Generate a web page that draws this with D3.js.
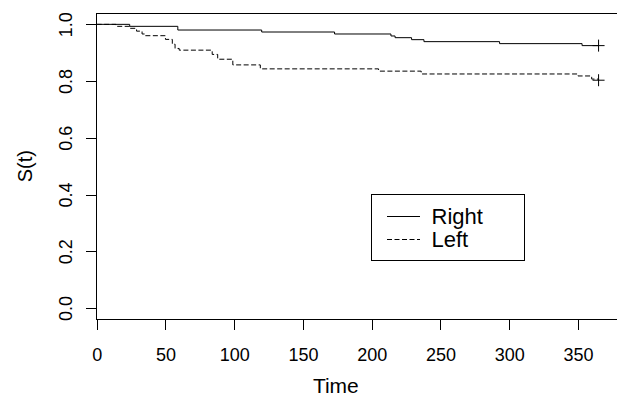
<!DOCTYPE html>
<html>
<head>
<meta charset="utf-8">
<script src="https://cdn.jsdelivr.net/npm/d3@7"></script>
<style>
  body { margin: 0; background: #fff; }
  svg { display: block; font-family: "Liberation Sans", Arial, sans-serif; }
</style>
</head>
<body>
<svg id="chart" width="617" height="397"></svg>
<script>
// ---- data ----
const seriesNames = ["Right", "Left"];
const rightTimes = [0, 24, 59, 120, 173, 214, 217, 229, 238, 293, 353, 365];
const rightSurv  = [1.0, 0.993, 0.980, 0.973, 0.966, 0.959, 0.953, 0.946, 0.939, 0.932, 0.925, 0.925];
const leftTimes  = [0, 14, 24, 29, 33, 35, 50, 55, 57, 60, 84, 88, 99, 119, 205, 236, 350, 360, 365];
const leftSurv   = [1.0, 0.993, 0.986, 0.976, 0.966, 0.960, 0.947, 0.930, 0.915, 0.909, 0.894, 0.877, 0.857, 0.843, 0.835, 0.825, 0.818, 0.807, 0.803];
const censorTimes = [365, 365];
const censorSurv  = [0.925, 0.803];
const xTicks = [0, 50, 100, 150, 200, 250, 300, 350];
const yTicks = [0.0, 0.2, 0.4, 0.6, 0.8, 1.0];
const xLabel = "Time";
const yLabel = "S(t)";

// ---- layout ----
const svg = d3.select("#chart");
const plotLeft = 96.7, plotTop = 13, plotBottom = 319.3;
const x = d3.scaleLinear().domain([0, 380]).range([plotLeft, plotLeft + 380 * 1.375]);
const y = d3.scaleLinear().domain([-0.04, 1.04]).range([plotBottom, plotTop]);

// plot box
svg.append("rect")
  .attr("x", x(0)).attr("y", y(1.04))
  .attr("width", x(380) - x(0)).attr("height", y(-0.04) - y(1.04))
  .attr("fill", "none").attr("stroke", "#000").attr("stroke-width", 1)
  .attr("shape-rendering", "crispEdges");

// x axis
const gx = svg.append("g").attr("transform", `translate(0,${plotBottom})`)
  .call(d3.axisBottom(x).tickValues(xTicks).tickFormat(d3.format("d"))
        .tickSize(11).tickPadding(18));
gx.select(".domain").remove();
gx.selectAll("line").attr("stroke", "#000").attr("shape-rendering", "crispEdges");
gx.selectAll("text").attr("font-size", 18).attr("fill", "#000")
  .attr("font-family", "Liberation Sans, Arial, sans-serif");

// y axis
const gy = svg.append("g").attr("transform", `translate(${plotLeft},0)`)
  .call(d3.axisLeft(y).tickValues(yTicks).tickFormat(d3.format(".1f")).tickSize(11));
gy.select(".domain").remove();
gy.selectAll("line").attr("stroke", "#000").attr("shape-rendering", "crispEdges");
gy.selectAll("text")
  .attr("x", null).attr("dy", null)
  .attr("transform", "translate(-25,0) rotate(-90)")
  .attr("text-anchor", "middle")
  .attr("font-size", 18).attr("fill", "#000")
  .attr("font-family", "Liberation Sans, Arial, sans-serif");

// axis titles
svg.append("text").attr("x", (x(0) + 575) / 2).attr("y", 393)
  .attr("text-anchor", "middle").attr("font-size", 21).text(xLabel);
svg.append("text").attr("transform", `translate(32,${(plotTop + plotBottom) / 2}) rotate(-90)`)
  .attr("text-anchor", "middle").attr("font-size", 20).text(yLabel);

// curves
const line = d3.line().x(d => x(d[0])).y(d => y(d[1])).curve(d3.curveStepAfter);
const rightData = rightTimes.map((t, i) => [t, rightSurv[i]]);
const leftData = leftTimes.map((t, i) => [t, leftSurv[i]]);

svg.append("path").datum(leftData).attr("d", line)
  .attr("fill", "none").attr("stroke", "#000").attr("stroke-width", 1)
  .attr("stroke-dasharray", "5,2.5");
svg.append("path").datum(rightData).attr("d", line)
  .attr("fill", "none").attr("stroke", "#000").attr("stroke-width", 1);

// censor marks
const cs = 6;
censorTimes.forEach((t, i) => {
  const cx = x(t), cy = y(censorSurv[i]);
  svg.append("path")
    .attr("d", `M${cx - cs},${cy}H${cx + cs}M${cx},${cy - cs}V${cy + cs}`)
    .attr("stroke", "#000").attr("stroke-width", 1).attr("fill", "none");
});

// legend
const lg = svg.append("g");
lg.append("rect").attr("x", 371.5).attr("y", 194.5).attr("width", 152.5).attr("height", 66)
  .attr("fill", "#fff").attr("stroke", "#000").attr("stroke-width", 1)
  .attr("shape-rendering", "crispEdges");
const legRows = [216.5, 239.5];
seriesNames.forEach((name, i) => {
  lg.append("line").attr("x1", 387).attr("x2", 420).attr("y1", legRows[i]).attr("y2", legRows[i])
    .attr("stroke", "#000").attr("stroke-width", 1)
    .attr("stroke-dasharray", i === 1 ? "5,2.5" : null);
  lg.append("text").attr("x", 431.5).attr("y", legRows[i] + 7.5)
    .attr("font-size", 22).attr("fill", "#000").text(name);
});
</script>
</body>
</html>
